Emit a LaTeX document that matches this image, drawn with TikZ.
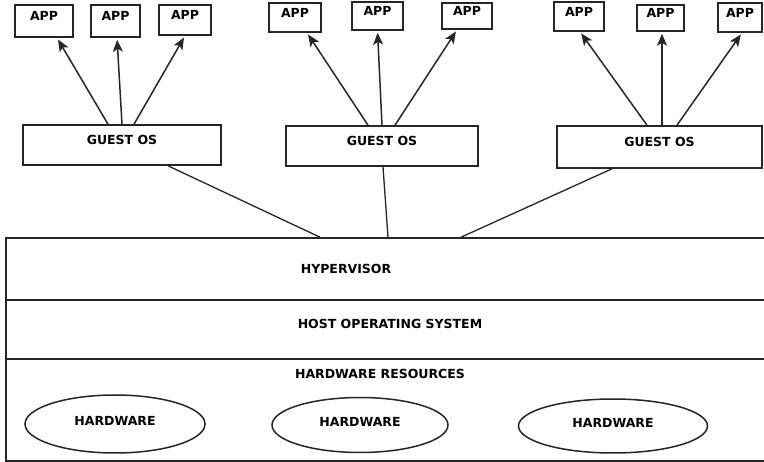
\documentclass[tikz,border=0pt]{standalone}
\usepackage{fontspec}
\setmainfont{DejaVu Sans}
\usepackage{tikz}
\usetikzlibrary{shapes.geometric,arrows.meta}

\begin{document}
\begin{tikzpicture}[x = 1pt, y = -1pt, font = \fontsize{12.5}{14}\selectfont\bfseries,
        box/.style = {draw = black!85, line width = 1.6pt, inner sep = 0pt, text height = 8pt, text depth = 8pt},
        layer/.style = {draw = black!85, line width = 1.6pt, minimum width = 770, inner sep = 0pt},
        hw/.style = {draw = black!85, ellipse, line width = 1.5pt, inner sep = 0pt, text height = 9pt, text depth = 6pt},
        arr/.style = {draw = black!85, line width = 1.5pt, -{Stealth[length = 12pt, width = 10pt, inset = 3pt]}, shorten > = 2pt},
        link/.style = {draw = black!85, line width = 1.3pt}]
    \useasboundingbox (0,0) rectangle (764,462);

    % apps
    \node[box, minimum width = 58, minimum height = 32] (app1) at (44,21) {APP};
    \node[box, minimum width = 49, minimum height = 32] (app2) at (115.5,21) {APP};
    \node[box, minimum width = 52, minimum height = 30] (app3) at (185,20) {APP};
    \node[box, minimum width = 52, minimum height = 29] (app4) at (295,17.5) {APP};
    \node[box, minimum width = 51, minimum height = 28] (app5) at (377.5,16) {APP};
    \node[box, minimum width = 50, minimum height = 26] (app6) at (467,16) {APP};
    \node[box, minimum width = 50, minimum height = 29] (app7) at (579,16.5) {APP};
    \node[box, minimum width = 47, minimum height = 26] (app8) at (660.5,18) {APP};
    \node[box, minimum width = 44, minimum height = 29] (app9) at (740,17.5) {APP};

    % guest systems
    \node[box, minimum width = 198, minimum height = 40] (gos1) at (122,145) {GUEST OS};
    \node[box, minimum width = 192, minimum height = 40] (gos2) at (382,146) {GUEST OS};
    \node[box, minimum width = 205, minimum height = 42] (gos3) at (659.5,147) {GUEST OS};

    \draw[arr] ([xshift = -14]gos1.north) -- ([xshift = 13]app1.south);
    \draw[arr] (gos1.north) -- ([xshift = 1.5]app2.south);
    \draw[arr] ([xshift = 12]gos1.north) -- (app3.south);
    \draw[arr] ([xshift = -14]gos2.north) -- ([xshift = 12]app4.south);
    \draw[arr] (gos2.north) -- (app5.south);
    \draw[arr] ([xshift = 13]gos2.north) -- ([xshift = -10]app6.south);
    \draw[arr] ([xshift = -12.5]gos3.north) -- ([xshift = 1]app7.south);
    \draw[arr] ([xshift = 2.5]gos3.north) -- ([xshift = 1.5]app8.south);
    \draw[arr] ([xshift = 17.5]gos3.north) -- ([xshift = 2]app9.south);

    % layers
    \node[layer, minimum height = 62] (hyp) at (391,269) {};
    \node[layer, minimum height = 59] (host) at (391,329.5) {};
    \node[layer, minimum height = 102] (res) at (391,410) {};
    \node (hyptext) at (346,269) {HYPERVISOR};
    \node (hosttext) at (390,324) {HOST OPERATING SYSTEM};
    \node (restext) at (380,374) {HARDWARE RESOURCES};

    \draw[link] ([xshift = 46]gos1.south) -- ([xshift = -71]hyp.north);
    \draw[link] ([xshift = 1]gos2.south) -- ([xshift = -3]hyp.north);
    \draw[link] ([xshift = -47.5]gos3.south) -- ([xshift = 70]hyp.north);

    % hardware
    \node[hw, minimum width = 180, minimum height = 58] (hw1) at (115,424) {HARDWARE};
    \node[hw, minimum width = 176, minimum height = 55] (hw2) at (360,425) {HARDWARE};
    \node[hw, minimum width = 189, minimum height = 54] (hw3) at (613,426) {HARDWARE};
\end{tikzpicture}
\end{document}
